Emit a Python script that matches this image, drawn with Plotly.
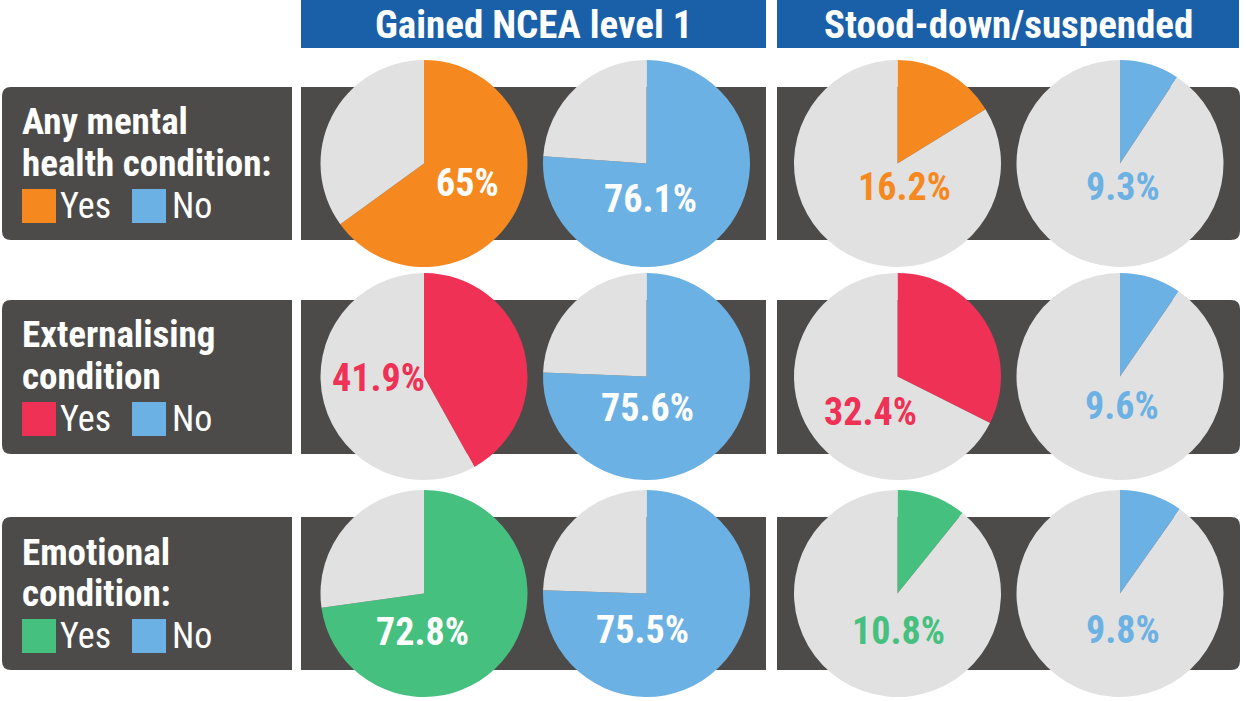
import plotly.graph_objects as go

W, H = 1246, 701

# ---------------- data ----------------
row_titles = [["Any mental", "health condition:"],
              ["Externalising", "condition"],
              ["Emotional", "condition:"]]
column_titles = ["Gained NCEA level 1", "Stood-down/suspended"]
ncea_yes = [65, 41.9, 72.8]
ncea_no = [76.1, 75.6, 75.5]
stood_yes = [16.2, 32.4, 10.8]
stood_no = [9.3, 9.6, 9.8]
legend_labels = ["Yes", "No"]

# ---------------- styles / layout ----------------
yes_colors = ["#F5891F", "#EE3155", "#46C07F"]
no_color = "#6CB1E3"
rest_color = "#E1E1E1"
panel_color = "#4D4B4A"
header_color = "#1A60A8"
FONT = "Roboto Condensed"

pie_cx = [424, 646.5, 897.5, 1120]
pie_cy = [163.5, 376.5, 593.5]
pie_r = 103.5
panel_y = [(87, 240), (300, 454), (517, 670)]
# label offsets (px) from pie centre, per row then per pie
label_off = [[(43, 19), (3.5, 35.5), (6.5, 23.5), (2.5, 23.5)],
             [(-46, 1.5), (0.5, 31.5), (-27.5, 35.5), (2, 29.5)],
             [(-2, 38.5), (-4.5, 36.5), (0.5, 37), (3, 36.5)]]


def px(x):
    return x / W


def py(y):
    return 1 - y / H


def rect_path(x0, y0, x1, y1, rl=0, rr=0):
    X = px
    Y = py
    p = f"M {X(x0+rl)},{Y(y0)} L {X(x1-rr)},{Y(y0)} "
    p += f"Q {X(x1)},{Y(y0)} {X(x1)},{Y(y0+rr)} L {X(x1)},{Y(y1-rr)} "
    p += f"Q {X(x1)},{Y(y1)} {X(x1-rr)},{Y(y1)} L {X(x0+rl)},{Y(y1)} "
    p += f"Q {X(x0)},{Y(y1)} {X(x0)},{Y(y1-rl)} L {X(x0)},{Y(y0+rl)} "
    p += f"Q {X(x0)},{Y(y0)} {X(x0+rl)},{Y(y0)} Z"
    return p


fig = go.Figure()
shapes = []
annotations = []

# headers
header_x = [(301, 766), (777, 1239)]
for (x0, x1), title in zip(header_x, column_titles):
    shapes.append(dict(type="rect", xref="paper", yref="paper",
                       x0=px(x0), x1=px(x1), y0=py(48), y1=py(0),
                       fillcolor=header_color, line_width=0, layer="below"))
    annotations.append(dict(x=px((x0 + x1) / 2), y=py(25), xref="paper", yref="paper",
                            text=f"<b>{title}</b>", showarrow=False,
                            xanchor="center", yanchor="middle",
                            font=dict(family=FONT, size=39, color="white")))

for i in range(3):
    y0, y1 = panel_y[i]
    shapes.append(dict(type="path", xref="paper", yref="paper",
                       path=rect_path(2, y0, 292, y1, rl=9, rr=0),
                       fillcolor=panel_color, line_width=0, layer="below"))
    shapes.append(dict(type="rect", xref="paper", yref="paper",
                       x0=px(301), x1=px(766), y0=py(y1), y1=py(y0),
                       fillcolor=panel_color, line_width=0, layer="below"))
    shapes.append(dict(type="path", xref="paper", yref="paper",
                       path=rect_path(777, y0, 1240, y1, rl=0, rr=9),
                       fillcolor=panel_color, line_width=0, layer="below"))

    # row titles
    for k, line in enumerate(row_titles[i]):
        annotations.append(dict(x=px(20), y=py(y0 + 35 + 41 * k), xref="paper", yref="paper",
                                text=f"<b>{line}</b>", showarrow=False,
                                xanchor="left", yanchor="middle",
                                font=dict(family=FONT, size=37, color="white")))
    # legend swatches
    sy = y0 + 102
    for (sx, col, lab, tx) in [(22, yes_colors[i], legend_labels[0], 58),
                               (132, no_color, legend_labels[1], 170)]:
        shapes.append(dict(type="rect", xref="paper", yref="paper",
                           x0=px(sx), x1=px(sx + 34), y0=py(sy + 34), y1=py(sy),
                           fillcolor=col, line_width=0, layer="below"))
        annotations.append(dict(x=px(tx), y=py(sy + 17), xref="paper", yref="paper",
                                text=lab, showarrow=False,
                                xanchor="left", yanchor="middle",
                                font=dict(family=FONT, size=36, color="white")))

    vals = [ncea_yes[i], ncea_no[i], stood_yes[i], stood_no[i]]
    cols = [yes_colors[i], no_color, yes_colors[i], no_color]
    for j in range(4):
        cx, cy = pie_cx[j], pie_cy[i]
        v = vals[j]
        fig.add_trace(go.Pie(
            values=[v, 100 - v], labels=["a", "b"], sort=False,
            direction="clockwise", rotation=0,
            marker=dict(colors=[cols[j], rest_color], line=dict(width=0)),
            textinfo="none", hoverinfo="skip", showlegend=False,
            domain=dict(x=[px(cx - pie_r), px(cx + pie_r)],
                        y=[py(cy + pie_r), py(cy - pie_r)])))
        ox, oy = label_off[i][j]
        tcol = "white" if v > 50 else cols[j]
        annotations.append(dict(x=px(cx + ox), y=py(cy + oy), xref="paper", yref="paper",
                                text=f"<b>{v:g}%</b>", showarrow=False,
                                xanchor="center", yanchor="middle",
                                font=dict(family=FONT, size=38, color=tcol)))

fig.update_layout(width=W, height=H, margin=dict(l=0, r=0, t=0, b=0),
                  paper_bgcolor="white", plot_bgcolor="white",
                  shapes=shapes, annotations=annotations, showlegend=False)

fig.write_html("out.html", config={"displayModeBar": False},
               post_script="document.body.style.margin='0';")
